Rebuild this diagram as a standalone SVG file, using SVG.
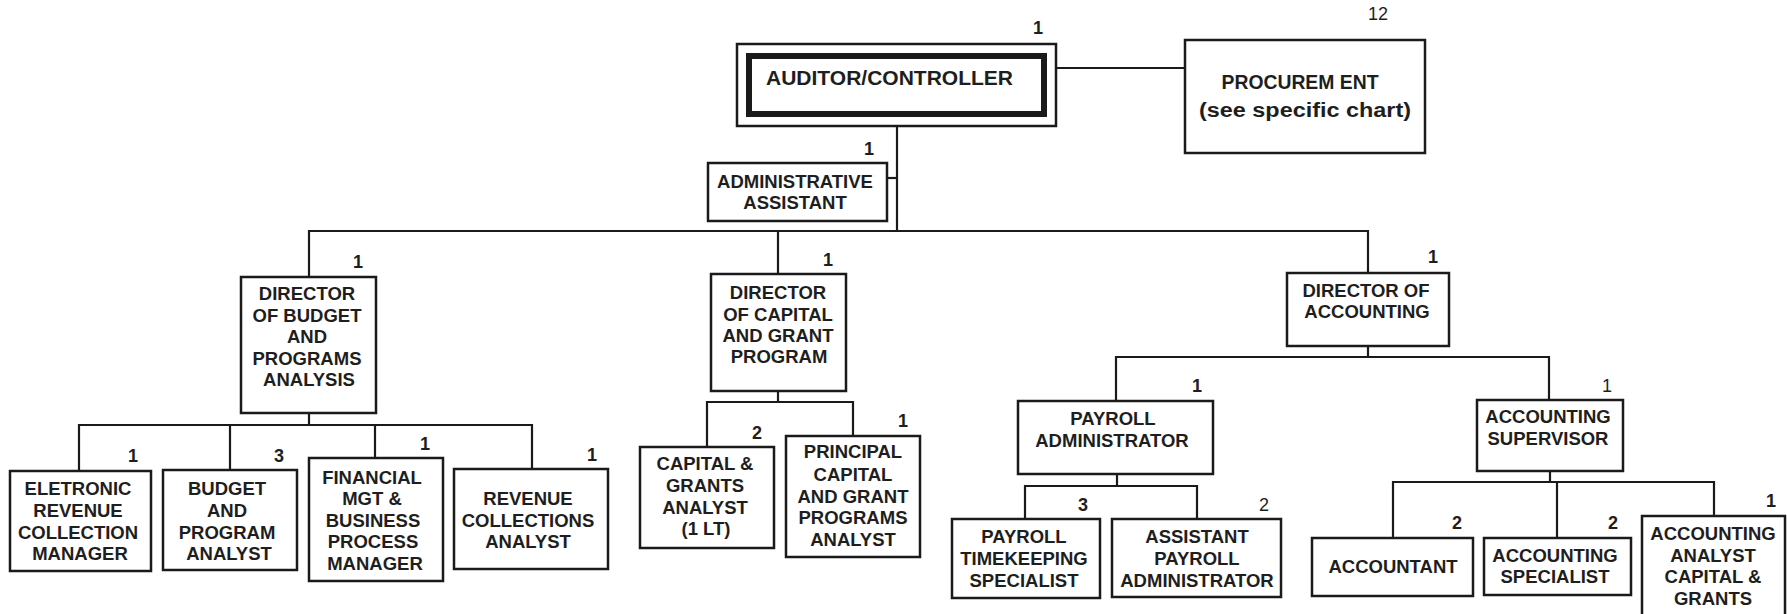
<svg xmlns="http://www.w3.org/2000/svg" width="1787" height="614" viewBox="0 0 1787 614">
<style>
.bg{fill:#fff}
.box{fill:#fff;stroke:#1a1a1a;stroke-width:2.5}
.conn path{fill:none;stroke:#1a1a1a;stroke-width:2.2}
.t{font-family:"Liberation Sans",Arial,sans-serif;font-weight:bold;font-size:18.5px;fill:#1e1e1e;text-anchor:middle}
.n{font-family:"Liberation Sans",Arial,sans-serif;font-weight:bold;font-size:18px;fill:#1e1e1e;text-anchor:middle}
.nr{font-family:"Liberation Sans",Arial,sans-serif;font-weight:normal;font-size:18px;fill:#1e1e1e;text-anchor:middle}
.big{font-size:21px}
.pr{font-size:20px}
</style>
<rect class="bg" x="0" y="0" width="1787" height="614"/>
<g id="connectors" class="conn">
<path d="M1056 68 H1185"/>
<path d="M897 126 V231"/>
<path d="M887 178 H897"/>
<path d="M309 277 V231 H1368 V273"/>
<path d="M778 231 V274"/>
<path d="M309 413 V425"/>
<path d="M79 471 V425 H532 V469"/>
<path d="M230 425 V470"/>
<path d="M375 425 V458"/>
<path d="M778 391 V402"/>
<path d="M707 447 V402 H853 V436"/>
<path d="M1368 346 V357"/>
<path d="M1116 401 V357 H1549 V400"/>
<path d="M1117 474 V486"/>
<path d="M1025 519 V486 H1197 V519"/>
<path d="M1550 471 V482"/>
<path d="M1393 538 V482 H1714 V516"/>
<path d="M1557 482 V538"/>
</g>
<g id="total">
<text class="nr" x="1378" y="20" font-size="17">12</text>
</g>
<g id="auditor">
<rect class="box" x="737" y="44" width="319" height="82"/>
<rect x="749" y="56" width="295" height="58" fill="#fff" stroke="#1a1a1a" stroke-width="6"/>
<text class="t big" x="889.5" y="85">AUDITOR/CONTROLLER</text>
<text class="n" x="1038" y="34">1</text>
</g>
<g id="procurement">
<rect class="box" x="1185" y="40" width="240" height="113"/>
<text class="t pr" x="1300" y="89" textLength="157" lengthAdjust="spacingAndGlyphs">PROCUREM ENT</text>
<text class="t pr" x="1305" y="117" textLength="212" lengthAdjust="spacingAndGlyphs">(see specific chart)</text>
</g>
<g id="admin-assistant">
<rect class="box" x="708" y="163" width="179" height="58"/>
<text class="t"><tspan x="795" y="188">ADMINISTRATIVE</tspan><tspan x="795" y="209">ASSISTANT</tspan></text>
<text class="n" x="869" y="155">1</text>
</g>
<g id="dir-budget">
<rect class="box" x="241" y="277" width="135" height="136"/>
<text class="t"><tspan x="307" y="300">DIRECTOR</tspan><tspan x="307" y="321.5">OF BUDGET</tspan><tspan x="307" y="343">AND</tspan><tspan x="307" y="364.5">PROGRAMS</tspan><tspan x="309" y="386">ANALYSIS</tspan></text>
<text class="n" x="358" y="268">1</text>
</g>
<g id="dir-capital">
<rect class="box" x="711" y="274" width="135" height="117"/>
<text class="t"><tspan x="778" y="299">DIRECTOR</tspan><tspan x="778" y="321">OF CAPITAL</tspan><tspan x="778" y="342">AND GRANT</tspan><tspan x="779" y="363">PROGRAM</tspan></text>
<text class="n" x="828" y="266">1</text>
</g>
<g id="dir-accounting">
<rect class="box" x="1287" y="273" width="162" height="73"/>
<text class="t"><tspan x="1366" y="297">DIRECTOR OF</tspan><tspan x="1367" y="318">ACCOUNTING</tspan></text>
<text class="n" x="1433" y="263">1</text>
</g>
<g id="eletronic">
<rect class="box" x="10" y="471" width="141" height="100"/>
<text class="t"><tspan x="78" y="495">ELETRONIC</tspan><tspan x="78" y="517">REVENUE</tspan><tspan x="78" y="539">COLLECTION</tspan><tspan x="80" y="560">MANAGER</tspan></text>
<text class="n" x="133" y="462">1</text>
</g>
<g id="budget-analyst">
<rect class="box" x="163" y="470" width="134" height="100"/>
<text class="t"><tspan x="227" y="495">BUDGET</tspan><tspan x="227" y="517">AND</tspan><tspan x="227" y="539">PROGRAM</tspan><tspan x="229" y="560">ANALYST</tspan></text>
<text class="n" x="279" y="462">3</text>
</g>
<g id="financial">
<rect class="box" x="309" y="458" width="134" height="123"/>
<text class="t"><tspan x="372" y="484">FINANCIAL</tspan><tspan x="372" y="505">MGT &amp;</tspan><tspan x="373" y="527">BUSINESS</tspan><tspan x="373" y="548">PROCESS</tspan><tspan x="375" y="570">MANAGER</tspan></text>
<text class="n" x="425" y="450">1</text>
</g>
<g id="revenue">
<rect class="box" x="454" y="469" width="154" height="100"/>
<text class="t"><tspan x="528" y="505">REVENUE</tspan><tspan x="528" y="527">COLLECTIONS</tspan><tspan x="528" y="548">ANALYST</tspan></text>
<text class="n" x="592" y="461">1</text>
</g>
<g id="capital-grants">
<rect class="box" x="640" y="447" width="134" height="101"/>
<text class="t"><tspan x="705" y="470">CAPITAL &amp;</tspan><tspan x="705" y="492">GRANTS</tspan><tspan x="705" y="514">ANALYST</tspan><tspan x="706" y="535">(1 LT)</tspan></text>
<text class="n" x="757" y="439">2</text>
</g>
<g id="principal">
<rect class="box" x="786" y="436" width="134" height="121"/>
<text class="t"><tspan x="853" y="458">PRINCIPAL</tspan><tspan x="853" y="481">CAPITAL</tspan><tspan x="853" y="503">AND GRANT</tspan><tspan x="853" y="524">PROGRAMS</tspan><tspan x="853" y="546">ANALYST</tspan></text>
<text class="n" x="903" y="427">1</text>
</g>
<g id="payroll-admin">
<rect class="box" x="1018" y="401" width="195" height="73"/>
<text class="t"><tspan x="1113" y="425">PAYROLL</tspan><tspan x="1112" y="447">ADMINISTRATOR</tspan></text>
<text class="n" x="1197" y="392">1</text>
</g>
<g id="acct-supervisor">
<rect class="box" x="1477" y="400" width="146" height="71"/>
<text class="t"><tspan x="1548" y="423">ACCOUNTING</tspan><tspan x="1548" y="445">SUPERVISOR</tspan></text>
<text class="nr" x="1607" y="392">1</text>
</g>
<g id="payroll-timekeeping">
<rect class="box" x="952" y="519" width="148" height="79"/>
<text class="t"><tspan x="1024" y="543">PAYROLL</tspan><tspan x="1024" y="565">TIMEKEEPING</tspan><tspan x="1024" y="587">SPECIALIST</tspan></text>
<text class="n" x="1083" y="511">3</text>
</g>
<g id="assistant-payroll">
<rect class="box" x="1112" y="519" width="169" height="78"/>
<text class="t"><tspan x="1197" y="543">ASSISTANT</tspan><tspan x="1197" y="565">PAYROLL</tspan><tspan x="1197" y="587">ADMINISTRATOR</tspan></text>
<text class="nr" x="1264" y="511">2</text>
</g>
<g id="accountant">
<rect class="box" x="1312" y="538" width="161" height="58"/>
<text class="t" x="1393" y="573">ACCOUNTANT</text>
<text class="n" x="1457" y="529">2</text>
</g>
<g id="acct-specialist">
<rect class="box" x="1484" y="538" width="147" height="57"/>
<text class="t"><tspan x="1555" y="562">ACCOUNTING</tspan><tspan x="1555" y="583">SPECIALIST</tspan></text>
<text class="n" x="1613" y="529">2</text>
</g>
<g id="acct-analyst">
<rect class="box" x="1642" y="516" width="143" height="110"/>
<text class="t"><tspan x="1713" y="540">ACCOUNTING</tspan><tspan x="1713" y="562">ANALYST</tspan><tspan x="1713" y="583">CAPITAL &amp;</tspan><tspan x="1713" y="605">GRANTS</tspan></text>
<text class="n" x="1771" y="507">1</text>
</g>
</svg>
